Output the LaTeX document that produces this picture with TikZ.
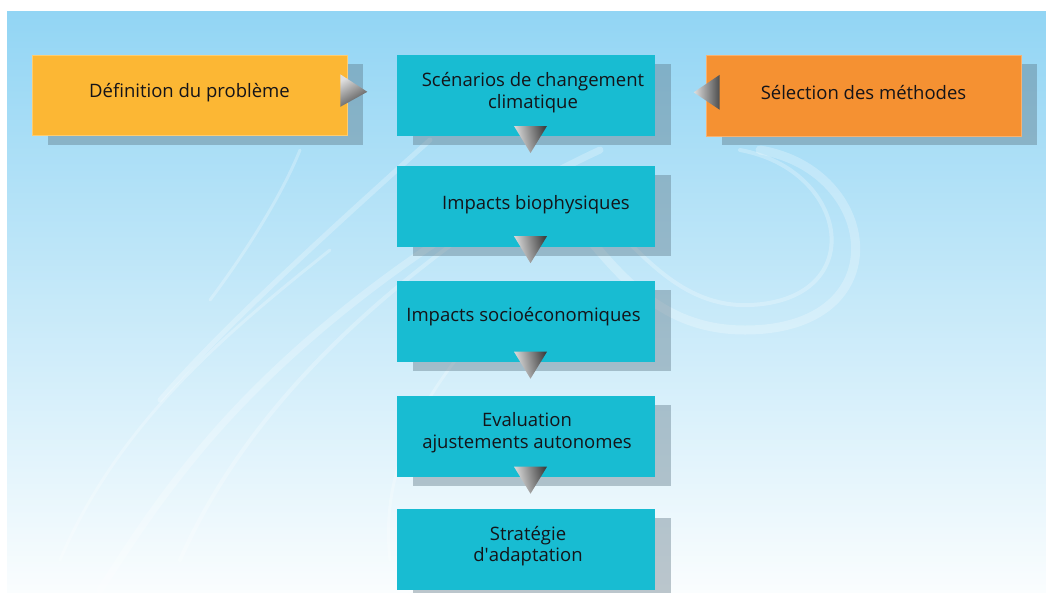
\documentclass[tikz,border=0pt]{standalone}
\usepackage{fontspec}
\setmainfont{Open Sans}
\usetikzlibrary{calc,shadows}
\definecolor{bgtop}{RGB}{146,213,244}
\definecolor{bgmid}{RGB}{196,232,250}
\definecolor{bgbot}{RGB}{250,253,254}
\definecolor{cyanbox}{RGB}{24,188,210}
\definecolor{yellowbox}{RGB}{252,183,52}
\definecolor{orangebox}{RGB}{245,145,50}
\definecolor{shadowc}{RGB}{85,110,125}
\definecolor{txt}{RGB}{20,20,25}
\tikzset{
  boxbase/.style={draw=none, inner sep=0pt,
    general shadow={fill=shadowc, opacity=.38, shadow xshift=16pt, shadow yshift=-9pt}},
  cbox/.style={boxbase, fill=cyanbox, minimum width=258pt, minimum height=81pt},
  ybox/.style={boxbase, fill=yellowbox, draw=yellowbox!70!white, line width=.6pt, minimum width=315pt, minimum height=80.5pt},
  obox/.style={boxbase, fill=orangebox, draw=orangebox!70!white, line width=.6pt, minimum width=315pt, minimum height=81pt},
  lbl/.style={text=txt, align=center, font=\fontsize{18.5}{21.5}\selectfont, inner sep=0pt},
  tri/.style={draw=none},
  swirl/.style={white, opacity=.25, line cap=round, line join=round},
}
\begin{document}
\begin{tikzpicture}[x=1pt,y=-1pt]
\useasboundingbox (0,0) rectangle (1046,592);
\fill[white] (0,0) rectangle (1046,592);
\shade[top color=bgtop, middle color=bgmid, bottom color=bgbot] (7,11) rectangle (1046,592);

% watermark swirls
\begin{scope}
\clip (7,11) rectangle (1046,592);
\draw[swirl, line width=9pt] (760,150) .. controls (880,170) and (900,330) .. (745,330) .. controls (650,330) and (610,260) .. (560,205);
\draw[swirl, line width=4pt] (740,150) .. controls (850,170) and (870,300) .. (750,305) .. controls (680,308) and (640,250) .. (600,215);
\draw[swirl, line width=7pt] (600,150) .. controls (450,220) and (300,330) .. (200,450) .. controls (150,510) and (120,560) .. (100,590);
\draw[swirl, line width=4pt] (560,170) .. controls (420,260) and (260,380) .. (180,560);
\draw[swirl, line width=5pt] (430,140) .. controls (330,230) and (220,330) .. (160,400);
\draw[swirl, line width=3pt] (330,250) .. controls (230,330) and (120,420) .. (60,560);
\draw[swirl, line width=3pt] (480,330) .. controls (420,400) and (380,470) .. (390,560);
\draw[swirl, line width=3pt] (300,150) .. controls (280,200) and (240,260) .. (210,300);
\end{scope}

% boxes
\node[ybox] (def) at (189.5,95.3) {};
\node[cbox] (scen) at (526,95.8) {};
\node[obox] (sel) at (863.5,95.3) {};
\node[cbox] (bio) at (526,206) {};
\node[cbox] (soc) at (526,321.5) {};
\node[cbox] (eva) at (526,436.5) {};
\node[cbox] (str) at (526,549) {};

% labels
\node[lbl] (def-t) at ($(def)+(0,-3)$) {Définition du problème};
\node[lbl] (scen-t) at ($(scen)+(7,-3)$) {Scénarios de changement\\climatique};
\node[lbl] (sel-t) at ($(sel)+(0,-3)$) {Sélection des méthodes};
\node[lbl] (bio-t) at ($(bio)+(10,-1)$) {Impacts biophysiques};
\node[lbl] (soc-t) at ($(soc)+(-2.5,-4.5)$) {Impacts socioéconomiques};
\node[lbl] (eva-t) at ($(eva)+(1,-4)$) {Evaluation\\ajustements autonomes};
\node[lbl] (str-t) at ($(str)+(2,-3)$) {Stratégie\\d\textquotesingle adaptation};

% connector triangles
\shade[tri, left color=gray!25, right color=black!70, shading angle=30]
  ($(def.east)+(-7,-21)$) -- ($(def.east)+(20,-3.5)$) -- ($(def.east)+(-7,11.5)$) -- cycle;
\shade[tri, left color=gray!25, right color=black!70]
  ($(sel.west)+(14,-20.5)$) -- ($(sel.west)+(-12,-3)$) -- ($(sel.west)+(14,14.5)$) -- cycle;
\foreach \n in {scen,bio,soc,eva}{
  \shade[tri, left color=gray!20, right color=black!75, shading angle=100]
    ($(\n.south)+(-12,-10.5)$) -- ($(\n.south)+(21,-10.5)$) -- ($(\n.south)+(4.5,16.5)$) -- cycle;
}
\end{tikzpicture}
\end{document}
